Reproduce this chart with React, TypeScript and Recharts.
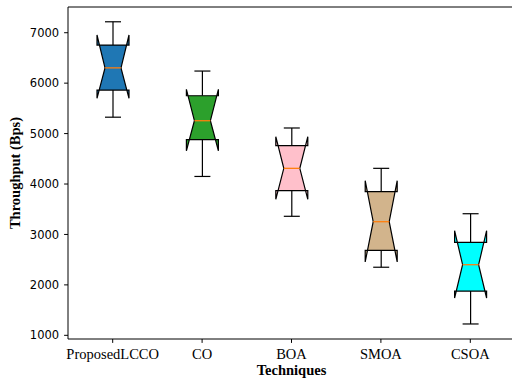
import React from 'react';
import { ComposedChart, Bar, XAxis, YAxis, ReferenceLine } from 'recharts';

const categories = ['ProposedLCCO', 'CO', 'BOA', 'SMOA', 'CSOA'];
const whiskerLow = [5325, 4150, 3360, 2350, 1225];
const q1 = [5862, 4880, 3868, 2685, 1878];
const median = [6303, 5255, 4311, 3253, 2400];
const q3 = [6755, 5750, 4760, 3848, 2844];
const whiskerHigh = [7217, 6240, 5111, 4311, 3411];
const notchLow = [5700, 4660, 3697, 2455, 1740];
const notchHigh = [6955, 5878, 4938, 4066, 3074];
const boxColors = ['#1f77b4', '#2ca02c', '#ffc0cb', '#d2b48c', '#00ffff'];
const yTicks = [1000, 2000, 3000, 4000, 5000, 6000, 7000];
const yDomain: [number, number] = [927, 7510];

const data = categories.map((name, i) => ({
  name,
  whiskerLow: whiskerLow[i],
  q1: q1[i],
  median: median[i],
  q3: q3[i],
  whiskerHigh: whiskerHigh[i],
  notchLow: notchLow[i],
  notchHigh: notchHigh[i],
  color: boxColors[i],
  range: [whiskerLow[i], whiskerHigh[i]],
}));

const BoxShape = (props: any) => {
  const { x, y, width, height, payload } = props;
  if (!payload) return null;
  const top = Math.min(y, y + height);
  const bot = Math.max(y, y + height);
  const lo = payload.whiskerLow;
  const hi = payload.whiskerHigh;
  const py = (v: number) => bot - ((v - lo) / (hi - lo)) * (bot - top);
  const cx = x + width / 2;
  const L = x;
  const R = x + width;
  const nl = cx - width / 4;
  const nr = cx + width / 4;
  const d = [
    `M${L},${py(payload.q1)}`,
    `L${R},${py(payload.q1)}`,
    `L${R},${py(payload.notchLow)}`,
    `L${nr},${py(payload.median)}`,
    `L${R},${py(payload.notchHigh)}`,
    `L${R},${py(payload.q3)}`,
    `L${L},${py(payload.q3)}`,
    `L${L},${py(payload.notchHigh)}`,
    `L${nl},${py(payload.median)}`,
    `L${L},${py(payload.notchLow)}`,
    'Z',
  ].join(' ');
  const sw = 1.2;
  return (
    <g>
      <line x1={cx} x2={cx} y1={py(payload.q1)} y2={py(lo)} stroke="#000" strokeWidth={sw} />
      <line x1={cx} x2={cx} y1={py(payload.q3)} y2={py(hi)} stroke="#000" strokeWidth={sw} />
      <line x1={nl} x2={nr} y1={py(lo)} y2={py(lo)} stroke="#000" strokeWidth={sw} />
      <line x1={nl} x2={nr} y1={py(hi)} y2={py(hi)} stroke="#000" strokeWidth={sw} />
      <path d={d} fill={payload.color} stroke="#000" strokeWidth={sw} strokeLinejoin="miter" />
      <line x1={nl} x2={nr} y1={py(payload.median)} y2={py(payload.median)} stroke="#ff7f0e" strokeWidth={1.3} />
    </g>
  );
};

export default function App() {
  return (
    <div style={{ position: 'absolute', left: 0, top: 0, width: 512, height: 384, overflow: 'hidden', background: '#fff' }}>
      <ComposedChart
        width={530}
        height={384}
        data={data}
        margin={{ top: 7, right: 15, bottom: 0, left: 0 }}
        barCategoryGap={0}
      >
        <XAxis
          dataKey="name"
          type="category"
          height={45}
          stroke="#000"
          tickLine={{ stroke: '#000' }}
          tickSize={3.9}
          tickMargin={6}
          tick={{ fill: '#000', fontFamily: 'Liberation Serif', fontSize: 14.5 }}
          interval={0}
          label={{
            value: 'Techniques',
            position: 'insideBottom',
            offset: 9,
            style: { fill: '#000', fontFamily: 'Liberation Serif', fontWeight: 'bold', fontSize: 14.5 },
          }}
        />
        <YAxis
          type="number"
          domain={yDomain}
          ticks={yTicks}
          allowDataOverflow
          width={68}
          stroke="#000"
          tickLine={{ stroke: '#000' }}
          tickSize={3.9}
          tickMargin={5}
          tick={{ fill: '#000', fontFamily: 'DejaVu Sans', fontSize: 11.5 }}
          label={{
            value: 'Throughput (Bps)',
            angle: -90,
            position: 'insideLeft',
            offset: 15,
            style: { textAnchor: 'middle', fill: '#000', fontFamily: 'Liberation Serif', fontWeight: 'bold', fontSize: 14.5 },
          }}
        />
        <ReferenceLine y={yDomain[1]} stroke="#000" strokeWidth={1} />
        <Bar dataKey="range" barSize={32} shape={<BoxShape />} isAnimationActive={false} />
      </ComposedChart>
    </div>
  );
}
